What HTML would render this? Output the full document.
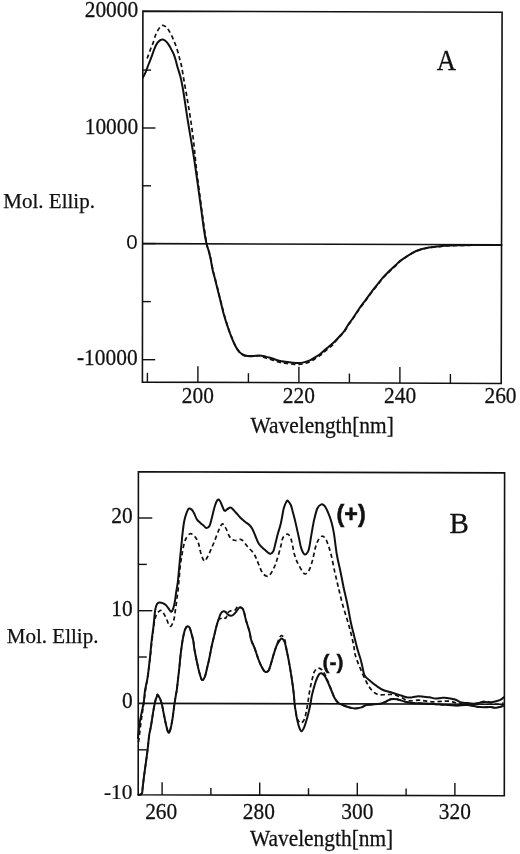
<!DOCTYPE html>
<html><head><meta charset="utf-8"><title>CD spectra</title><style>
html,body{margin:0;padding:0;background:#fff;}
svg{display:block;}
.ax{fill:none;stroke:#111;stroke-width:1.6;stroke-linejoin:miter;}
.zl{stroke:#111;stroke-width:1.6;}
.tk{stroke:#111;stroke-width:1.4;}
.cs{fill:none;stroke:#111;stroke-width:2;stroke-linejoin:round;stroke-linecap:round;}
.cd{fill:none;stroke:#111;stroke-width:1.7;stroke-dasharray:4.3 3;}
.t{font-family:"Liberation Serif","Times New Roman",serif;font-size:21.4px;fill:#111;stroke:#111;stroke-width:0.25px;}
.s0{font-family:"Liberation Sans",Arial,sans-serif;font-size:20.5px;fill:#111;}
.ml{font-size:21px;}
.big{font-family:"Liberation Serif","Times New Roman",serif;font-size:29px;fill:#111;stroke:#111;stroke-width:0.3px;}
.pm{font-family:"Liberation Sans",Arial,sans-serif;font-weight:bold;font-size:23.3px;fill:#111;stroke:#111;stroke-width:0.5px;}
.pm2{font-family:"Liberation Sans",Arial,sans-serif;font-weight:bold;font-size:21px;fill:#111;stroke:#111;stroke-width:0.4px;}
</style></head><body>
<svg width="520" height="854" viewBox="0 0 520 854">
<rect width="520" height="854" fill="#fff"/>
<polygon class="ax" points="142.9,11.1 502.1,12.3 501.2,383.5 142.4,382.1"/>
<line class="zl" x1="143" y1="243.6" x2="501.7" y2="244.8"/>
<line class="tk" x1="147.4" y1="382.1" x2="147.4" y2="372.8"/>
<line class="tk" x1="197.9" y1="382.3" x2="197.9" y2="366.3"/>
<line class="tk" x1="248.4" y1="382.5" x2="248.4" y2="373.2"/>
<line class="tk" x1="298.9" y1="382.7" x2="298.9" y2="366.7"/>
<line class="tk" x1="349.4" y1="382.9" x2="349.4" y2="373.6"/>
<line class="tk" x1="399.9" y1="383.1" x2="399.9" y2="367.1"/>
<line class="tk" x1="450.4" y1="383.3" x2="450.4" y2="374.0"/>
<line class="tk" x1="142.8" y1="70.1" x2="151.1" y2="70.1"/>
<line class="tk" x1="142.7" y1="128.0" x2="155.5" y2="128.0"/>
<line class="tk" x1="142.7" y1="185.8" x2="151.0" y2="185.8"/>
<line class="tk" x1="142.6" y1="243.6" x2="155.4" y2="243.6"/>
<line class="tk" x1="142.5" y1="301.6" x2="150.8" y2="301.6"/>
<line class="tk" x1="142.4" y1="359.7" x2="155.2" y2="359.7"/>
<path class="cs" d="M143.0,77.5 C143.5,76.5 145.0,73.7 145.9,71.6 C146.8,69.5 147.3,67.5 148.3,65.0 C149.3,62.5 150.7,59.0 151.7,56.3 C152.7,53.6 153.6,50.9 154.5,48.7 C155.4,46.5 156.4,44.3 157.4,42.9 C158.4,41.5 159.4,40.8 160.3,40.2 C161.2,39.6 161.8,39.4 162.7,39.5 C163.6,39.6 164.6,40.2 165.6,41.0 C166.6,41.8 167.5,42.9 168.5,44.3 C169.5,45.7 170.5,47.9 171.4,49.6 C172.3,51.3 173.1,52.6 173.8,54.4 C174.5,56.2 175.1,58.3 175.7,60.2 C176.3,62.1 176.4,63.2 177.2,66.0 C178.0,68.8 179.5,73.0 180.5,77.0 C181.5,81.0 181.9,82.8 183.1,90.0 C184.3,97.2 185.8,108.3 187.7,120.0 C189.6,131.7 192.4,147.6 194.3,160.0 C196.2,172.4 197.6,183.2 199.2,194.6 C200.8,206.0 202.6,220.3 203.8,228.5 C205.0,236.7 205.7,240.2 206.5,243.8 C207.3,247.4 207.7,247.6 208.4,250.0 C209.1,252.4 209.8,255.1 210.5,258.4 C211.2,261.7 211.8,265.9 212.6,269.7 C213.4,273.4 214.6,277.1 215.5,280.9 C216.4,284.6 217.4,288.4 218.3,292.2 C219.2,295.9 220.2,299.7 221.1,303.4 C222.0,307.1 222.8,310.9 223.9,314.6 C225.0,318.4 226.2,322.4 227.4,325.9 C228.6,329.4 229.6,332.4 230.9,335.7 C232.2,339.0 233.7,342.8 235.1,345.5 C236.5,348.2 237.9,350.3 239.3,351.9 C240.7,353.5 242.2,354.3 243.6,355.0 C245.0,355.7 246.2,355.8 247.8,355.9 C249.4,356.0 251.5,356.0 253.4,355.9 C255.3,355.8 257.3,355.3 259.2,355.4 C261.1,355.5 263.2,356.0 265.0,356.4 C266.8,356.8 268.2,357.2 270.0,357.8 C271.8,358.4 273.9,359.1 275.8,359.7 C277.7,360.3 279.6,360.9 281.5,361.3 C283.4,361.7 285.4,361.9 287.3,362.1 C289.2,362.4 291.2,362.6 293.1,362.8 C295.0,363.0 296.9,363.2 298.8,363.1 C300.7,363.0 302.7,362.6 304.6,362.1 C306.5,361.6 308.5,361.0 310.4,360.1 C312.3,359.2 314.5,357.7 316.2,356.6 C317.9,355.6 319.4,354.7 320.5,353.8 C321.6,352.9 321.8,352.5 323.1,351.4 C324.4,350.2 326.8,348.3 328.5,346.9 C330.2,345.5 331.7,344.4 333.1,343.1 C334.5,341.8 335.6,340.6 336.9,339.2 C338.2,337.8 339.5,336.4 340.8,335.0 C342.1,333.6 343.3,332.4 344.6,330.6 C345.9,328.8 347.1,326.2 348.5,324.2 C349.9,322.2 351.0,321.0 352.7,318.5 C354.4,316.0 356.8,312.1 358.8,309.2 C360.9,306.2 362.9,303.6 365.0,300.8 C367.1,298.0 369.1,295.0 371.2,292.3 C373.2,289.6 375.2,287.2 377.3,284.6 C379.4,282.0 381.4,279.2 383.5,276.9 C385.6,274.6 387.6,272.8 389.6,270.8 C391.7,268.8 393.7,266.9 395.8,265.0 C397.9,263.1 398.6,261.9 402.0,259.6 C405.4,257.3 411.7,253.0 416.2,251.0 C420.7,249.0 424.6,248.4 428.8,247.6 C433.0,246.8 438.0,246.4 441.5,246.1 C445.0,245.8 446.9,245.7 450.0,245.5 C453.1,245.3 455.0,245.3 460.0,245.2 C465.0,245.1 473.1,245.1 480.0,245.0 C486.9,244.9 497.9,244.9 501.5,244.9"/>
<path class="cd" d="M147.2,58.5 C147.4,58.0 147.7,57.0 148.3,55.4 C148.9,53.8 149.9,50.8 150.7,48.7 C151.5,46.6 152.3,45.1 153.1,42.9 C153.9,40.6 154.8,37.1 155.5,35.2 C156.2,33.3 156.7,32.6 157.4,31.3 C158.1,30.0 158.9,28.5 159.8,27.5 C160.7,26.5 161.6,25.5 162.7,25.4 C163.8,25.3 165.1,26.2 166.1,27.0 C167.1,27.8 167.6,28.5 168.5,29.9 C169.4,31.3 170.5,33.4 171.4,35.2 C172.3,37.0 173.0,38.6 173.8,40.5 C174.6,42.4 175.4,44.4 176.2,46.7 C177.0,49.0 178.0,52.1 178.6,54.4 C179.2,56.6 179.5,58.3 180.0,60.2 C180.5,62.1 180.8,62.7 181.5,66.0 C182.2,69.3 182.9,74.3 183.9,80.0 C184.9,85.7 186.2,93.0 187.4,100.0 C188.6,107.0 189.9,114.5 191.0,122.0 C192.1,129.5 193.2,137.8 194.0,145.0 C194.8,152.2 195.1,156.7 196.0,165.0 C196.9,173.3 198.3,184.0 199.7,194.6 C201.1,205.2 203.1,220.2 204.3,228.5 C205.5,236.8 206.1,240.6 206.8,244.2 C207.5,247.9 208.0,248.0 208.7,250.4 C209.4,252.8 210.1,255.5 210.8,258.8 C211.5,262.1 212.1,266.3 212.9,270.1 C213.7,273.8 214.9,277.5 215.8,281.3 C216.8,285.0 217.7,288.8 218.6,292.6 C219.5,296.3 220.5,300.1 221.4,303.8 C222.3,307.5 223.2,311.2 224.2,315.0 C225.3,318.8 226.5,322.8 227.7,326.3 C228.9,329.8 229.9,332.8 231.2,336.1 C232.5,339.4 234.0,343.2 235.4,345.9 C236.8,348.6 238.2,350.7 239.6,352.3 C241.0,353.9 242.5,354.7 243.9,355.4 C245.3,356.1 246.5,356.1 248.1,356.3 C249.7,356.4 251.8,356.4 253.7,356.3 C255.6,356.2 257.6,355.5 259.5,355.8 C261.4,356.0 263.2,357.2 265.0,357.8 C266.8,358.4 268.2,358.6 270.0,359.2 C271.8,359.8 273.9,360.5 275.8,361.1 C277.7,361.7 279.6,362.3 281.5,362.7 C283.4,363.1 285.4,363.2 287.3,363.5 C289.2,363.8 291.2,364.0 293.1,364.2 C295.0,364.4 296.9,364.6 298.8,364.5 C300.7,364.4 302.7,364.0 304.6,363.5 C306.5,363.0 308.5,362.4 310.4,361.5 C312.3,360.6 314.5,359.1 316.2,358.0 C317.9,356.9 319.4,356.1 320.5,355.2 C321.6,354.3 321.8,353.9 323.1,352.8 C324.4,351.6 326.8,349.7 328.5,348.3 C330.2,346.9 331.7,345.9 333.1,344.5 C334.5,343.1 335.6,341.3 336.9,339.8 C338.2,338.3 339.5,337.0 340.8,335.6 C342.1,334.2 343.3,333.0 344.6,331.2 C345.9,329.4 347.1,326.8 348.5,324.8 C349.9,322.8 351.0,321.6 352.7,319.1 C354.4,316.6 356.8,312.8 358.8,309.8 C360.9,306.9 362.9,304.2 365.0,301.4 C367.1,298.6 369.1,295.6 371.2,292.9 C373.2,290.2 375.2,287.8 377.3,285.2 C379.4,282.6 381.4,279.8 383.5,277.5 C385.6,275.2 387.6,273.4 389.6,271.4 C391.7,269.4 393.7,267.5 395.8,265.6 C397.9,263.7 398.6,262.2 402.0,259.8 C405.4,257.4 411.7,253.2 416.2,251.2 C420.7,249.2 424.6,248.6 428.8,247.8 C433.0,247.0 438.0,246.6 441.5,246.3 C445.0,245.9 446.9,245.8 450.0,245.7 C453.1,245.5 455.0,245.5 460.0,245.4 C465.0,245.3 473.1,245.2 480.0,245.2 C486.9,245.1 497.9,245.1 501.5,245.1"/>
<polygon class="ax" points="138.4,471.8 504.6,472.9 504.3,795.8 138.2,794.8"/>
<line class="zl" x1="138.3" y1="703.4" x2="504.4" y2="704.2"/>
<line class="tk" x1="162.1" y1="794.9" x2="162.1" y2="782.3"/>
<line class="tk" x1="210.9" y1="795.0" x2="210.9" y2="787.9"/>
<line class="tk" x1="259.7" y1="795.1" x2="259.7" y2="782.5"/>
<line class="tk" x1="308.5" y1="795.3" x2="308.5" y2="788.2"/>
<line class="tk" x1="357.3" y1="795.4" x2="357.3" y2="782.8"/>
<line class="tk" x1="406.1" y1="795.5" x2="406.1" y2="788.4"/>
<line class="tk" x1="454.9" y1="795.7" x2="454.9" y2="783.1"/>
<line class="tk" x1="138.3" y1="518.0" x2="152.3" y2="518.0"/>
<line class="tk" x1="138.3" y1="564.4" x2="146.8" y2="564.4"/>
<line class="tk" x1="138.3" y1="610.7" x2="152.3" y2="610.7"/>
<line class="tk" x1="138.3" y1="657.0" x2="146.8" y2="657.0"/>
<line class="tk" x1="138.3" y1="749.8" x2="146.8" y2="749.8"/>
<path class="cs" d="M138.0,738.0 C138.2,735.7 138.9,728.3 139.5,724.0 C140.1,719.7 141.0,715.7 141.7,712.1 C142.4,708.5 143.1,706.2 143.7,702.5 C144.3,698.8 144.4,694.3 145.1,690.0 C145.8,685.7 146.9,682.4 147.7,676.9 C148.5,671.4 149.3,663.4 150.0,657.3 C150.7,651.1 151.1,645.2 151.7,640.0 C152.3,634.8 152.9,631.2 153.5,626.2 C154.1,621.2 154.6,613.7 155.2,610.0 C155.8,606.3 156.2,605.5 156.9,604.2 C157.6,603.0 158.2,602.7 159.2,602.5 C160.2,602.3 161.5,602.6 162.7,603.1 C163.9,603.6 165.0,604.2 166.2,605.4 C167.3,606.5 168.8,609.0 169.6,610.0 C170.4,611.0 170.7,611.9 171.3,611.7 C171.9,611.5 172.5,610.4 173.1,608.8 C173.7,607.2 174.3,604.7 174.8,601.9 C175.3,599.1 175.7,595.3 176.2,592.0 C176.7,588.7 177.2,586.8 177.8,582.0 C178.4,577.2 178.9,570.0 179.6,563.0 C180.3,556.0 181.4,544.9 181.9,540.0 C182.4,535.1 182.1,536.9 182.5,533.8 C182.9,530.7 183.5,524.7 184.2,521.2 C184.9,517.8 185.7,515.2 186.5,513.1 C187.3,511.0 187.9,509.3 188.8,508.7 C189.7,508.1 190.8,508.9 191.7,509.6 C192.6,510.3 193.1,511.5 194.0,513.1 C194.9,514.7 195.8,517.8 196.9,519.4 C198.0,521.0 199.2,521.8 200.4,522.9 C201.6,524.0 202.8,524.9 203.8,525.8 C204.9,526.7 205.7,528.1 206.7,528.1 C207.7,528.1 208.7,527.5 209.6,525.8 C210.5,524.1 211.0,521.0 211.9,517.7 C212.8,514.4 213.8,509.2 214.8,506.2 C215.8,503.2 216.8,500.7 217.7,499.8 C218.6,498.9 219.2,499.9 220.0,501.0 C220.8,502.1 221.5,504.6 222.3,506.2 C223.1,507.8 223.7,510.3 224.6,510.8 C225.5,511.3 226.4,509.5 227.5,509.0 C228.6,508.5 229.6,507.0 231.0,507.6 C232.4,508.2 234.2,510.8 235.8,512.5 C237.4,514.2 238.9,516.2 240.4,517.7 C241.9,519.2 243.5,520.5 245.0,521.7 C246.5,523.0 248.3,524.0 249.6,525.2 C250.8,526.5 251.5,527.4 252.5,529.2 C253.5,531.0 254.3,533.6 255.4,536.0 C256.4,538.4 257.3,541.5 258.8,543.8 C260.3,546.1 262.8,548.0 264.6,549.6 C266.4,551.2 268.4,553.4 269.8,553.7 C271.2,554.0 272.3,553.1 273.3,551.3 C274.3,549.5 274.8,545.7 275.6,542.7 C276.4,539.7 277.0,536.7 277.9,533.5 C278.8,530.3 279.8,527.7 280.8,523.5 C281.8,519.3 282.8,512.2 283.7,508.5 C284.6,504.8 285.8,502.8 286.5,501.5 C287.2,500.2 287.2,500.4 287.9,501.0 C288.6,501.6 289.9,503.0 290.8,505.0 C291.7,507.0 292.2,509.8 293.1,513.1 C294.0,516.4 295.1,520.6 296.0,524.6 C296.9,528.6 297.9,533.4 298.8,537.3 C299.7,541.2 300.2,545.2 301.2,548.1 C302.2,551.0 303.5,553.8 304.6,554.4 C305.8,555.0 307.2,553.1 308.1,551.5 C309.0,549.9 309.3,547.0 309.8,544.6 C310.3,542.2 310.3,540.9 311.0,537.0 C311.7,533.1 312.8,526.0 313.8,521.2 C314.9,516.5 316.1,511.3 317.3,508.5 C318.6,505.7 320.1,504.8 321.3,504.4 C322.6,504.0 323.6,504.8 324.8,506.2 C326.0,507.6 327.2,510.6 328.3,513.1 C329.4,515.6 330.2,517.8 331.2,521.2 C332.1,524.7 333.1,528.2 334.0,533.8 C334.9,539.4 335.8,548.8 336.9,555.0 C338.0,561.2 339.3,565.9 340.4,571.2 C341.5,576.5 342.4,581.6 343.5,587.0 C344.6,592.4 346.1,597.9 347.3,603.8 C348.5,609.7 349.7,616.9 350.8,622.3 C351.9,627.7 353.1,631.6 354.2,636.2 C355.3,640.8 356.6,646.2 357.7,650.0 C358.8,653.8 359.7,656.3 360.5,659.0 C361.3,661.7 361.6,663.5 362.3,666.2 C363.0,668.9 363.2,672.9 364.6,675.4 C366.0,677.9 368.8,679.7 370.8,681.5 C372.9,683.3 374.8,684.8 376.9,686.2 C378.9,687.6 380.8,689.0 383.1,690.0 C385.4,691.0 388.2,691.5 390.8,692.3 C393.4,693.1 395.9,693.8 398.5,694.6 C401.1,695.4 404.2,696.8 406.5,697.3 C408.8,697.8 410.4,697.5 412.3,697.3 C414.2,697.1 416.2,696.3 418.1,696.2 C420.0,696.1 421.9,696.5 423.8,696.7 C425.7,696.9 427.7,697.0 429.6,697.3 C431.5,697.6 433.5,698.4 435.4,698.5 C437.3,698.6 439.3,698.0 441.2,697.9 C443.1,697.8 444.6,697.6 446.9,697.9 C449.2,698.2 452.6,698.7 455.0,699.5 C457.4,700.3 459.4,701.9 461.5,702.5 C463.6,703.1 465.4,702.9 467.3,703.1 C469.2,703.3 471.2,703.7 473.1,703.7 C475.0,703.7 476.9,703.4 478.8,703.1 C480.7,702.8 482.7,702.0 484.6,701.9 C486.5,701.8 488.5,702.6 490.4,702.5 C492.3,702.4 494.5,701.8 496.2,701.3 C497.9,700.8 499.6,700.3 500.8,699.6 C502.1,698.9 503.2,697.7 503.7,697.3"/>
<path class="cd" d="M138.6,742.0 C139.0,738.7 140.2,728.2 141.0,722.0 C141.8,715.8 142.8,710.3 143.5,705.0 C144.2,699.7 144.8,695.0 145.5,690.0 C146.2,685.0 147.2,680.5 148.0,675.0 C148.8,669.5 149.5,662.8 150.2,657.0 C150.9,651.2 151.4,644.8 152.0,640.0 C152.6,635.2 153.0,632.2 153.5,628.5 C154.0,624.8 154.4,620.7 155.2,618.0 C156.0,615.3 157.0,613.5 158.1,612.3 C159.2,611.1 160.2,609.8 161.5,610.6 C162.8,611.4 164.4,614.7 165.6,616.9 C166.8,619.1 167.6,622.2 168.5,623.8 C169.4,625.3 169.9,626.8 170.8,626.2 C171.7,625.6 172.9,623.1 173.7,620.4 C174.5,617.7 174.8,613.9 175.4,610.0 C176.0,606.1 176.7,600.3 177.1,597.3 C177.5,594.3 177.6,594.7 177.9,591.9 C178.2,589.1 178.6,584.6 179.0,580.4 C179.4,576.2 179.7,570.7 180.2,566.5 C180.7,562.3 181.3,558.6 181.9,555.0 C182.5,551.4 183.1,547.8 183.8,545.0 C184.5,542.2 185.0,540.4 186.0,538.5 C187.0,536.6 188.6,534.2 190.0,533.8 C191.4,533.4 193.2,534.7 194.6,536.2 C196.0,537.8 197.3,540.2 198.4,543.1 C199.5,546.0 200.0,550.8 201.0,553.8 C202.0,556.8 203.2,560.4 204.3,561.0 C205.4,561.6 206.2,559.2 207.3,557.3 C208.4,555.4 209.7,552.3 210.8,549.8 C212.0,547.2 212.9,545.1 214.2,542.0 C215.5,538.9 217.1,534.0 218.4,531.0 C219.8,528.0 221.1,524.5 222.3,524.0 C223.5,523.5 224.7,526.1 225.8,528.1 C227.0,530.1 228.0,534.1 229.2,536.0 C230.3,537.9 231.6,538.9 232.7,539.6 C233.8,540.4 234.3,540.5 235.8,540.5 C237.3,540.5 239.6,538.7 241.5,539.7 C243.4,540.7 245.2,543.9 247.3,546.3 C249.4,548.7 252.4,551.3 254.2,554.2 C256.0,557.1 256.9,560.4 258.3,563.5 C259.7,566.6 260.9,570.6 262.3,572.7 C263.7,574.8 265.6,575.8 266.9,576.2 C268.1,576.6 268.6,576.5 269.8,575.0 C271.1,573.5 273.1,569.6 274.4,566.9 C275.6,564.2 276.2,562.2 277.3,558.8 C278.4,555.3 279.8,549.8 280.8,546.2 C281.8,542.7 281.9,539.5 283.1,537.5 C284.3,535.5 286.5,534.0 287.8,534.2 C289.1,534.4 290.0,536.7 290.8,538.5 C291.6,540.3 291.9,542.5 292.5,545.0 C293.1,547.5 293.3,550.8 294.2,553.8 C295.1,556.8 296.3,560.2 297.7,563.1 C299.1,566.0 301.1,569.4 302.3,571.2 C303.6,573.0 304.1,574.2 305.2,574.0 C306.3,573.8 307.9,572.4 309.2,570.0 C310.4,567.6 311.7,563.3 312.7,559.6 C313.7,555.9 314.4,551.1 315.3,548.0 C316.2,544.9 316.8,542.8 317.9,540.8 C319.0,538.8 320.6,536.6 321.9,536.2 C323.1,535.8 324.3,537.0 325.4,538.5 C326.5,540.0 327.3,542.6 328.3,545.4 C329.3,548.1 330.1,550.7 331.2,555.0 C332.2,559.3 333.6,566.4 334.6,571.2 C335.7,576.0 336.7,580.3 337.5,583.8 C338.3,587.3 338.6,588.5 339.5,592.0 C340.4,595.5 341.4,600.3 342.7,605.0 C344.0,609.7 345.9,615.4 347.3,620.0 C348.7,624.6 349.7,628.5 350.8,632.7 C351.9,636.9 352.9,641.6 353.7,645.4 C354.5,649.2 354.3,651.7 355.4,655.4 C356.4,659.1 358.2,663.4 360.0,667.7 C361.8,672.1 364.1,677.6 366.2,681.5 C368.2,685.4 370.2,688.6 372.3,690.8 C374.4,693.0 376.2,694.0 378.5,694.6 C380.8,695.2 383.6,694.6 386.2,694.6 C388.8,694.6 391.2,694.1 393.8,694.6 C396.4,695.1 399.0,696.7 401.5,697.7 C404.0,698.7 406.0,700.4 408.8,700.8 C411.6,701.2 415.4,700.2 418.1,700.2 C420.8,700.2 422.5,700.5 425.0,700.8 C427.5,701.1 430.4,701.8 433.1,701.9 C435.8,702.0 438.3,701.4 441.2,701.3 C444.1,701.2 447.0,700.8 450.4,701.3 C453.8,701.8 457.7,703.6 461.5,704.2 C465.3,704.8 469.2,705.3 473.1,704.8 C477.0,704.3 480.8,701.4 484.6,701.3 C488.5,701.2 493.1,703.9 496.2,704.2 C499.3,704.5 502.3,703.2 503.5,703.0"/>
<path class="cs" d="M138.5,795.0 C139.1,794.8 141.2,794.8 141.9,793.5 C142.6,792.2 142.3,790.4 142.7,787.3 C143.1,784.2 143.6,779.5 144.2,775.0 C144.8,770.5 145.6,764.8 146.2,760.4 C146.8,756.0 147.2,753.0 147.7,748.8 C148.2,744.6 148.7,738.7 149.2,735.0 C149.7,731.3 150.2,730.5 150.9,726.5 C151.6,722.5 152.6,715.4 153.3,711.2 C154.0,707.0 154.6,704.1 155.2,701.5 C155.8,698.9 156.7,696.9 157.1,695.8 C157.5,694.7 157.1,694.3 157.6,694.8 C158.1,695.3 159.3,697.1 160.0,698.7 C160.7,700.3 161.3,701.9 161.9,704.4 C162.5,706.9 163.2,710.8 163.8,714.0 C164.5,717.2 165.1,720.7 165.8,723.7 C166.5,726.8 167.5,731.2 168.2,732.3 C168.9,733.4 169.4,732.6 170.1,730.4 C170.8,728.1 171.8,723.1 172.5,718.8 C173.2,714.5 173.8,708.4 174.4,704.4 C175.0,700.4 175.5,697.2 175.9,694.8 C176.3,692.4 176.4,693.0 176.8,690.0 C177.2,687.0 177.8,681.1 178.3,676.9 C178.8,672.7 179.2,669.2 179.6,665.0 C180.0,660.8 180.4,655.9 181.0,651.5 C181.6,647.1 182.2,642.2 182.9,638.5 C183.6,634.8 184.4,631.2 185.2,629.2 C186.0,627.2 186.7,626.5 187.5,626.3 C188.3,626.1 189.1,626.9 189.8,628.1 C190.5,629.4 190.9,631.7 191.5,633.8 C192.1,635.9 192.8,638.2 193.3,640.8 C193.8,643.4 193.8,645.9 194.4,649.2 C195.0,652.5 195.9,657.1 196.7,660.8 C197.5,664.5 198.1,668.0 199.0,671.2 C199.9,674.4 200.9,678.8 201.9,679.8 C202.9,680.8 203.8,679.3 204.8,676.9 C205.8,674.5 206.8,669.0 207.7,665.4 C208.6,661.8 209.4,658.1 210.0,655.0 C210.6,651.9 210.9,649.8 211.5,647.0 C212.1,644.2 212.7,641.8 213.5,638.5 C214.3,635.2 215.4,630.4 216.2,627.3 C217.0,624.1 217.7,621.9 218.5,619.6 C219.3,617.3 220.0,614.9 220.8,613.5 C221.6,612.1 222.7,611.5 223.5,611.3 C224.3,611.1 225.0,611.5 225.8,612.1 C226.6,612.7 227.3,614.0 228.1,614.6 C228.9,615.2 230.0,615.7 230.8,615.8 C231.6,615.9 232.3,615.5 233.1,615.0 C233.9,614.5 234.6,613.6 235.4,612.7 C236.2,611.8 236.9,610.5 237.7,609.6 C238.5,608.7 239.2,607.4 240.0,607.3 C240.8,607.2 242.0,607.9 242.7,608.8 C243.4,609.7 243.7,610.9 244.2,612.7 C244.7,614.5 245.2,617.4 245.8,619.6 C246.4,621.8 247.1,623.8 247.7,625.8 C248.3,627.8 249.0,629.5 249.6,631.9 C250.2,634.3 250.4,637.3 251.2,640.0 C252.0,642.7 253.4,645.0 254.6,648.1 C255.8,651.2 257.0,655.4 258.1,658.5 C259.2,661.6 260.4,664.3 261.5,666.5 C262.6,668.7 263.8,671.0 265.0,671.7 C266.2,672.4 267.5,671.9 268.5,670.6 C269.5,669.4 270.0,666.6 270.8,664.2 C271.6,661.8 272.2,659.3 273.1,656.2 C274.1,653.1 275.4,648.4 276.5,645.8 C277.6,643.2 278.5,642.0 279.4,640.8 C280.3,639.6 280.8,638.3 281.7,638.5 C282.6,638.7 283.7,639.7 284.6,641.9 C285.5,644.1 286.1,648.0 286.9,651.5 C287.7,655.0 288.4,658.9 289.2,663.1 C290.0,667.3 290.7,671.8 291.5,676.9 C292.3,682.0 293.3,689.5 293.8,694.0 C294.3,698.5 294.3,701.2 294.6,704.2 C294.9,707.2 295.4,709.2 295.8,711.9 C296.2,714.6 296.7,717.8 297.3,720.4 C297.9,723.0 298.5,725.5 299.2,727.3 C299.9,729.1 300.7,731.1 301.5,731.2 C302.3,731.3 303.0,729.8 303.8,728.1 C304.6,726.4 305.4,723.8 306.2,721.2 C307.0,718.6 307.8,715.5 308.5,712.7 C309.2,709.9 309.8,707.2 310.4,704.2 C311.0,701.2 311.2,698.3 312.1,694.6 C313.0,690.9 314.5,685.3 315.6,681.9 C316.8,678.5 318.1,675.8 319.0,674.4 C319.9,673.0 320.3,673.0 321.3,673.3 C322.3,673.6 323.7,674.8 324.8,676.2 C325.9,677.6 326.6,679.6 327.7,681.9 C328.8,684.2 330.0,687.3 331.2,690.0 C332.4,692.7 333.5,696.0 334.6,698.1 C335.8,700.2 336.8,701.6 338.1,702.7 C339.5,703.9 340.9,704.2 342.7,705.0 C344.5,705.8 347.1,706.8 349.2,707.4 C351.3,708.0 353.3,708.5 355.4,708.5 C357.4,708.5 359.8,707.9 361.5,707.4 C363.2,706.9 363.8,705.9 365.4,705.4 C366.9,704.9 368.4,704.9 370.8,704.6 C373.2,704.3 377.4,704.3 380.0,703.8 C382.6,703.3 384.4,702.3 386.2,701.5 C388.0,700.7 389.0,699.6 390.8,699.2 C392.6,698.8 394.6,698.8 396.9,699.2 C399.2,699.6 402.0,700.9 404.6,701.5 C407.2,702.1 408.9,702.7 412.3,703.0 C415.7,703.3 420.4,703.2 425.0,703.5 C429.6,703.8 434.9,704.2 440.0,704.5 C445.1,704.8 451.3,705.3 455.8,705.4 C460.3,705.5 463.0,704.7 467.0,705.0 C471.0,705.3 476.1,706.8 480.0,707.1 C483.9,707.5 487.7,707.0 490.4,707.1 C493.1,707.2 494.1,707.9 496.2,707.7 C498.3,707.5 502.0,706.3 503.1,706.0"/>
<path class="cd" d="M138.5,795.0 C139.1,794.8 141.2,794.8 141.9,793.5 C142.6,792.2 142.3,790.4 142.7,787.3 C143.1,784.2 143.6,779.5 144.2,775.0 C144.8,770.5 145.6,764.8 146.2,760.4 C146.8,756.0 147.2,753.0 147.7,748.8 C148.2,744.6 148.7,738.7 149.2,735.0 C149.7,731.3 150.2,730.5 150.9,726.5 C151.6,722.5 152.6,715.4 153.3,711.2 C154.0,707.0 154.6,704.1 155.2,701.5 C155.8,698.9 156.7,696.9 157.1,695.8 C157.5,694.7 157.1,694.3 157.6,694.8 C158.1,695.3 159.3,697.1 160.0,698.7 C160.7,700.3 161.3,701.9 161.9,704.4 C162.5,706.9 163.2,710.8 163.8,714.0 C164.5,717.2 165.1,720.7 165.8,723.7 C166.5,726.8 167.5,731.2 168.2,732.3 C168.9,733.4 169.4,732.6 170.1,730.4 C170.8,728.1 171.8,723.1 172.5,718.8 C173.2,714.5 173.8,708.4 174.4,704.4 C175.0,700.4 175.5,697.2 175.9,694.8 C176.3,692.4 176.4,693.0 176.8,690.0 C177.2,687.0 177.8,681.1 178.3,676.9 C178.8,672.7 179.2,669.2 179.6,665.0 C180.0,660.8 180.4,655.9 181.0,651.5 C181.6,647.1 182.2,642.2 182.9,638.5 C183.6,634.8 184.4,631.2 185.2,629.2 C186.0,627.2 186.7,626.5 187.5,626.3 C188.3,626.1 189.1,626.9 189.8,628.1 C190.5,629.4 190.9,631.7 191.5,633.8 C192.1,635.9 192.8,638.2 193.3,640.8 C193.8,643.4 193.8,645.9 194.4,649.2 C195.0,652.5 195.9,657.1 196.7,660.8 C197.5,664.5 198.1,668.0 199.0,671.2 C199.9,674.4 200.9,678.8 201.9,679.8 C202.9,680.8 203.8,679.3 204.8,676.9 C205.8,674.5 206.8,669.0 207.7,665.4 C208.6,661.8 209.4,658.1 210.0,655.0 C210.6,651.9 210.9,649.8 211.5,647.0 C212.1,644.2 212.7,641.8 213.5,638.5 C214.3,635.2 215.4,630.4 216.2,627.3 C217.0,624.1 217.7,621.1 218.5,619.6 C219.3,618.1 220.0,618.9 220.8,618.5 C221.6,618.1 222.7,617.4 223.5,617.3 C224.3,617.2 225.0,618.9 225.8,618.1 C226.6,617.3 227.3,613.8 228.1,612.6 C228.9,611.4 230.0,611.2 230.8,610.8 C231.6,610.4 232.3,610.2 233.1,610.0 C233.9,609.8 234.6,610.3 235.4,609.7 C236.2,609.1 236.9,607.0 237.7,606.6 C238.5,606.2 239.2,606.9 240.0,607.3 C240.8,607.7 242.0,607.9 242.7,608.8 C243.4,609.7 243.7,610.9 244.2,612.7 C244.7,614.5 245.2,617.4 245.8,619.6 C246.4,621.8 247.1,623.8 247.7,625.8 C248.3,627.8 249.0,629.5 249.6,631.9 C250.2,634.3 250.4,637.3 251.2,640.0 C252.0,642.7 253.4,645.0 254.6,648.1 C255.8,651.2 257.0,655.4 258.1,658.5 C259.2,661.6 260.4,664.3 261.5,666.5 C262.6,668.7 263.8,671.0 265.0,671.7 C266.2,672.4 267.5,671.9 268.5,670.6 C269.5,669.4 270.0,666.6 270.8,664.2 C271.6,661.8 272.2,659.3 273.1,656.2 C274.1,653.1 275.4,648.8 276.5,645.8 C277.6,642.8 278.5,639.7 279.4,638.0 C280.3,636.3 280.8,635.5 281.7,635.7 C282.6,635.9 283.7,636.5 284.6,639.1 C285.5,641.7 286.1,647.5 286.9,651.5 C287.7,655.5 288.4,658.9 289.2,663.1 C290.0,667.3 290.7,671.8 291.5,676.9 C292.3,682.0 293.3,689.5 293.8,694.0 C294.3,698.5 294.3,701.2 294.6,704.2 C294.9,707.2 295.4,709.6 295.8,711.9 C296.2,714.2 296.4,716.3 297.0,718.0 C297.6,719.7 298.6,721.2 299.3,722.0 C300.1,722.8 300.6,723.4 301.5,722.9 C302.4,722.4 303.8,720.9 304.6,718.8 C305.4,716.7 305.9,713.3 306.5,710.4 C307.1,707.5 307.6,704.6 308.1,701.2 C308.7,697.8 309.1,693.6 309.8,690.0 C310.5,686.4 311.4,682.5 312.1,679.6 C312.8,676.8 313.2,674.6 313.8,672.9 C314.4,671.2 315.2,670.2 316.0,669.4 C316.8,668.6 317.5,668.0 318.5,668.1 C319.5,668.2 320.8,668.8 321.9,669.8 C322.9,670.8 323.8,672.4 324.8,674.2 C325.8,676.0 326.6,678.2 327.7,680.8 C328.8,683.4 330.0,686.7 331.2,689.6 C332.4,692.5 333.5,695.9 334.6,698.1 C335.8,700.3 336.8,701.6 338.1,702.7 C339.5,703.9 340.9,704.2 342.7,705.0 C344.5,705.8 347.1,706.8 349.2,707.4 C351.3,708.0 353.3,708.5 355.4,708.5 C357.4,708.5 359.8,707.9 361.5,707.4 C363.2,706.9 363.8,705.9 365.4,705.4 C366.9,704.9 368.4,704.9 370.8,704.6 C373.2,704.3 377.4,704.3 380.0,703.8 C382.6,703.3 384.4,702.3 386.2,701.5 C388.0,700.7 389.0,699.6 390.8,699.2 C392.6,698.8 394.6,698.8 396.9,699.2 C399.2,699.6 402.0,700.9 404.6,701.5 C407.2,702.1 408.9,702.7 412.3,703.0 C415.7,703.3 420.4,703.2 425.0,703.5 C429.6,703.8 434.9,704.2 440.0,704.5 C445.1,704.8 451.3,705.3 455.8,705.4 C460.3,705.5 463.0,704.7 467.0,705.0 C471.0,705.3 476.1,706.8 480.0,707.1 C483.9,707.5 487.7,707.0 490.4,707.1 C493.1,707.2 494.1,707.9 496.2,707.7 C498.3,707.5 502.0,706.3 503.1,706.0"/>
<text class="t" transform="translate(138.2,16.5) scale(1.000,1.030)" text-anchor="end">20000</text>
<text class="t" transform="translate(138.2,133.5) scale(1.000,1.030)" text-anchor="end">10000</text>
<text class="s0" transform="translate(137.6,248.5) scale(1.000,1.000)" text-anchor="end">0</text>
<text class="t" transform="translate(137.6,365.3) scale(1.000,1.030)" text-anchor="end">-10000</text>
<text class="t ml" transform="translate(3.3,208.1) scale(1.000,1.000)" text-anchor="start">Mol. Ellip.</text>
<text class="t" transform="translate(197.9,403.4) scale(1.000,1.030)" text-anchor="middle">200</text>
<text class="t" transform="translate(298.8,403.4) scale(1.000,1.030)" text-anchor="middle">220</text>
<text class="t" transform="translate(400.1,403.4) scale(1.000,1.030)" text-anchor="middle">240</text>
<text class="t" transform="translate(500.5,403.4) scale(1.000,1.030)" text-anchor="middle">260</text>
<text class="t" transform="translate(322.2,433.3) scale(1.000,1.030)" text-anchor="middle">Wavelength[nm]</text>
<text class="big" transform="translate(446.4,70.2) scale(0.920,1.000)" text-anchor="middle">A</text>
<text class="t" transform="translate(132.7,523.0) scale(1.000,1.030)" text-anchor="end">20</text>
<text class="t" transform="translate(132.7,615.5) scale(1.000,1.030)" text-anchor="end">10</text>
<text class="t" transform="translate(132.7,707.6) scale(1.000,1.030)" text-anchor="end">0</text>
<text class="t" transform="translate(132.4,799.0) scale(1.000,0.950)" text-anchor="end">-10</text>
<text class="t ml" transform="translate(6.8,643.1) scale(1.000,1.000)" text-anchor="start">Mol. Ellip.</text>
<text class="t" transform="translate(161.2,818.5) scale(1.000,1.030)" text-anchor="middle">260</text>
<text class="t" transform="translate(258.9,818.5) scale(1.000,1.030)" text-anchor="middle">280</text>
<text class="t" transform="translate(357.3,818.5) scale(1.000,1.030)" text-anchor="middle">300</text>
<text class="t" transform="translate(454.9,818.5) scale(1.000,1.030)" text-anchor="middle">320</text>
<text class="t" transform="translate(321.6,845.6) scale(1.000,1.030)" text-anchor="middle">Wavelength[nm]</text>
<text class="big" transform="translate(459.2,533.4) scale(1.000,1.000)" text-anchor="middle">B</text>
<text class="pm" transform="translate(351.1,521.6) scale(1.000,1.000)" text-anchor="middle">(+)</text>
<text class="pm2" transform="translate(333.0,669.4) scale(1.000,1.000)" text-anchor="middle">(-)</text>
</svg>
</body></html>
